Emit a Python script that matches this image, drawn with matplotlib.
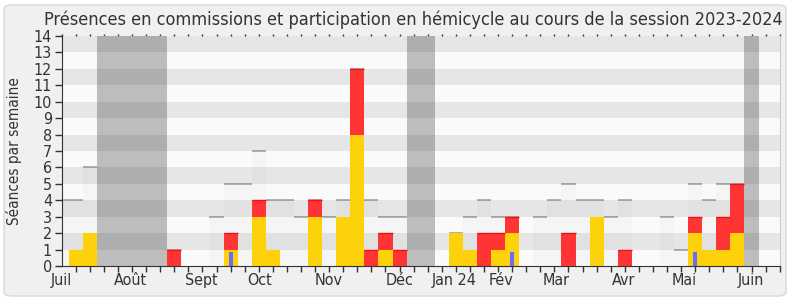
import matplotlib
matplotlib.use("Agg")
import matplotlib.pyplot as plt
from matplotlib.patches import FancyBboxPatch
import numpy as np

# weekly data, week 0 = first week of July 2023
weeks = np.arange(52)
total = [4, 4, 6, 0, 0, 0, 0, 0, 1, 0, 0, 3, 5, 5, 7, 4, 4, 3, 4, 3, 4, 12, 4, 3, 3, 0,
         0, 0, 2, 3, 4, 3, 3, 0, 3, 4, 5, 4, 4, 3, 4, 0, 0, 3, 1, 5, 4, 5, 5, 0, 0, 0]
commission = [0, 1, 2, 0, 0, 0, 0, 0, 0, 0, 0, 0, 1, 0, 3, 1, 0, 0, 3, 0, 3, 8, 0, 1, 0, 0,
              0, 0, 2, 1, 0, 1, 2, 0, 0, 0, 0, 0, 3, 0, 0, 0, 0, 0, 0, 2, 1, 1, 2, 0, 0, 0]
hemicycle = [0, 0, 0, 0, 0, 0, 0, 0, 1, 0, 0, 0, 1, 0, 1, 0, 0, 0, 1, 0, 0, 4, 1, 1, 1, 0,
             0, 0, 0, 0, 2, 1, 1, 0, 0, 0, 2, 0, 0, 0, 1, 0, 0, 0, 0, 1, 0, 2, 3, 0, 0, 0]
questions = [0, 0, 0, 0, 0, 0, 0, 0, 0, 0, 0, 0, 0.85, 0, 0, 0, 0, 0, 0, 0, 0, 0, 0, 0, 0, 0,
             0, 0, 0, 0, 0, 0, 0.85, 0, 0, 0, 0, 0, 0, 0, 0, 0, 0, 0, 0, 0.85, 0, 0, 0, 0, 0, 0]
vacances = [3, 4, 5, 6, 7, 25, 26, 49]

month_labels = ["Juil", "Août", "Sept", "Oct", "Nov", "Déc", "Jan 24", "Fév", "Mar", "Avr", "Mai", "Juin"]
month_pos = [0, 4.9, 9.9, 14.08, 18.94, 23.97, 27.9, 31.2, 35.12, 39.89, 44.2, 48.95]

font = dict(family="DejaVu Sans", stretch="condensed")
txt = "#333333"

fig = plt.figure(figsize=(7.9, 3.0), dpi=100)
fig.patch.set_facecolor("white")
fig.patches.append(FancyBboxPatch((4 / 790, 4 / 300), 782 / 790, 291 / 300,
                                  boxstyle="round,pad=0,rounding_size=0.012",
                                  transform=fig.transFigure, facecolor="#f0f0f0",
                                  edgecolor="#dddddd", linewidth=1.2, zorder=-10))

ax = fig.add_axes([61.67 / 790, 1 - 266 / 300, 718 / 790, 230 / 300])
ax.set_facecolor("#fafafa")

# light columns: total sessions of the week
ax.bar(weeks, total, width=1, color="black", alpha=0.018, linewidth=0, zorder=1)
ax.hlines([t for t in total if t > 0], [w - 0.5 for w, t in zip(weeks, total) if t > 0],
          [w + 0.5 for w, t in zip(weeks, total) if t > 0], color="#aaaaaa", lw=1.3, zorder=2)

# holidays
for w in vacances:
    ax.axvspan(w - 0.5, w + 0.5, color="#bdbdbd", lw=0, zorder=2)

# horizontal stripes
for y in range(1, 14, 2):
    ax.axhspan(y, y + 1, color="black", alpha=0.08, lw=0, zorder=3)

ax.bar(weeks, commission, width=1, color="#fdd20a", linewidth=0, zorder=4)
ax.bar(weeks, hemicycle, width=1, bottom=commission, color="#ff3535", linewidth=0, zorder=4)
tops = [c + h for c, h in zip(commission, hemicycle)]
ax.hlines([t for t, h in zip(tops, hemicycle) if h > 0],
          [w - 0.5 for w, h in zip(weeks, hemicycle) if h > 0],
          [w + 0.5 for w, h in zip(weeks, hemicycle) if h > 0], color="#f21010", lw=1, zorder=5)
ax.bar(weeks, questions, width=0.28, color="#6b6bff", linewidth=0, zorder=6)

ax.set_xlim(0, 51)
ax.set_ylim(0, 14)
ax.set_yticks(range(15))
ax.set_yticklabels([str(i) for i in range(15)], color=txt, fontsize=11.5, **font)
ax.set_xticks(month_pos)
ax.set_xticklabels(month_labels, color=txt, fontsize=11.5, **font)
ax.set_xticks(weeks, minor=True)
ax.tick_params(axis="x", which="major", length=0, pad=5)
ax.tick_params(axis="x", which="minor", length=4, width=1, color="#333333", direction="out")
ax.tick_params(axis="y", length=5, width=1, color="#333333", pad=2)
ax.spines["top"].set_visible(False)
ax.spines["right"].set_color("#cccccc")
ax.spines["left"].set_color("#333333")
ax.spines["bottom"].set_color("#333333")
ax.spines["bottom"].set_zorder(7)

# tiny dotted ticks along the top edge
top = ax.secondary_xaxis("top")
top.set_xticks(weeks)
top.set_xticklabels([])
top.tick_params(length=1.5, width=1, color="#333333")
top.spines["top"].set_visible(False)

ax.set_ylabel("Séances par semaine", color=txt, fontsize=11, labelpad=8, **font)
fig.text(0.5234, 0.935, "Présences en commissions et participation en hémicycle au cours de la session 2023-2024",
         ha="center", va="center", color=txt, fontsize=13, **font)

fig.savefig("out.png", dpi=100)
